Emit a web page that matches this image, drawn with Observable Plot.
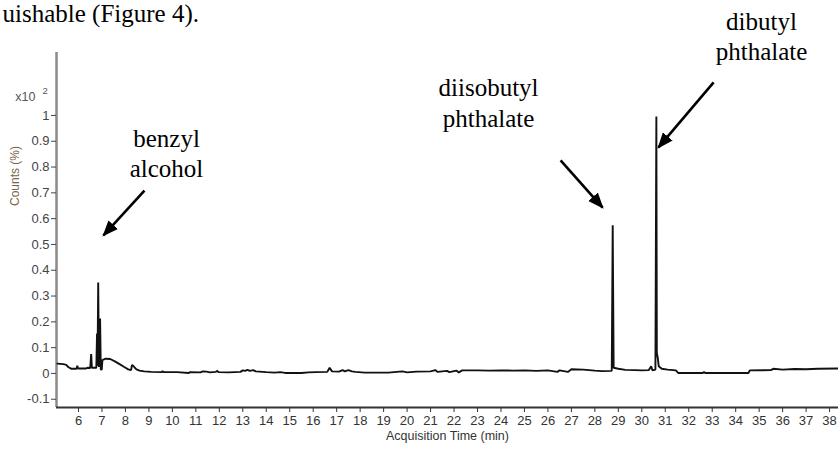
<!DOCTYPE html>
<html>
<head>
<meta charset="utf-8">
<script src="https://cdn.jsdelivr.net/npm/d3@7"></script>
<script src="https://cdn.jsdelivr.net/npm/@observablehq/plot@0.6"></script>
<style>
  html, body { margin: 0; padding: 0; background: #fff; }
  #chart svg { display: block; }
</style>
</head>
<body>
<div id="chart"></div>
<script>
// Chromatogram (retention time in min, counts in units of x10^2 %)
const time = [5.10,5.35,5.48,5.56,5.70,5.92,5.95,5.98,6.30,6.40,6.50,6.54,6.57,6.76,6.79,6.81,6.84,6.87,6.92,6.95,6.99,7.02,7.15,7.35,7.55,7.75,7.95,8.12,8.24,8.28,8.34,8.40,8.47,8.60,8.80,9.10,9.55,9.58,9.62,10.20,10.70,10.75,11.20,11.30,11.45,11.60,11.85,11.90,11.97,12.40,12.90,13.00,13.10,13.20,13.30,13.45,13.55,13.70,14.00,14.35,14.60,14.80,15.50,15.80,16.10,16.60,16.70,16.80,17.10,17.25,17.35,17.50,17.65,17.80,18.20,19.20,19.80,20.00,20.40,21.00,21.20,21.30,21.70,21.80,22.10,22.20,22.35,23.00,23.50,24.00,24.50,25.00,25.50,26.00,26.40,26.50,26.85,27.00,27.50,28.00,28.30,28.72,28.76,28.80,29.00,29.30,29.70,30.00,30.30,30.40,30.45,30.58,30.62,30.64,30.68,30.72,30.85,31.10,31.45,31.55,32.60,32.65,32.70,34.55,34.60,35.50,35.60,36.00,36.50,37.00,37.50,38.38];
const counts = [0.038,0.036,0.033,0.025,0.018,0.018,0.030,0.019,0.019,0.022,0.021,0.075,0.022,0.022,0.155,0.030,0.352,0.025,0.213,0.015,0.015,0.052,0.057,0.056,0.047,0.036,0.025,0.016,0.013,0.033,0.029,0.022,0.016,0.011,0.008,0.006,0.005,0.009,0.005,0.005,0.002,0.005,0.004,0.008,0.007,0.004,0.006,0.010,0.005,0.004,0.006,0.012,0.010,0.014,0.010,0.013,0.008,0.007,0.005,0.003,0.005,0.002,0.002,0.004,0.005,0.006,0.022,0.008,0.007,0.013,0.008,0.013,0.008,0.006,0.003,0.003,0.008,0.004,0.007,0.008,0.013,0.006,0.010,0.005,0.011,0.004,0.012,0.012,0.011,0.012,0.011,0.012,0.010,0.012,0.006,0.012,0.006,0.016,0.015,0.011,0.009,0.010,0.574,0.022,0.018,0.014,0.013,0.012,0.013,0.028,0.012,0.015,0.996,0.080,0.060,0.028,0.018,0.015,0.012,0.002,0.002,0.006,0.002,0.002,0.012,0.013,0.018,0.015,0.017,0.016,0.018,0.019];

// Axis ticks
const xTicks = d3.range(6, 39);
const yTicks = [-0.1,0,0.1,0.2,0.3,0.4,0.5,0.6,0.7,0.8,0.9,1];
const yTickLabels = ["-0.1","0","0.1","0.2","0.3","0.4","0.5","0.6","0.7","0.8","0.9","1"];

// Annotation labels (data coordinates; y = baseline)
const labelText = ["benzyl","alcohol","diisobutyl","phthalate","dibutyl","phthalate"];
const labelX = [9.75, 9.75, 23.47, 23.47, 35.10, 35.10];
const labelY = [0.876, 0.760, 1.074, 0.957, 1.333, 1.213];

// Arrows (tail -> tip, data coordinates)
const arrowX1 = [8.81, 26.54, 33.06];
const arrowY1 = [0.709, 0.826, 1.128];
const arrowX2 = [7.065, 28.33, 30.71];
const arrowY2 = [0.535, 0.643, 0.876];

const xDomain = [5.063, 38.38];
const yDomain = [-0.132, 1.244];

const series = time.map((t, i) => ({t, c: counts[i]}));
const labels = labelText.map((s, i) => ({s, x: labelX[i], y: labelY[i]}));
const arrows = arrowX1.map((x1, i) => ({x1, y1: arrowY1[i], x2: arrowX2[i], y2: arrowY2[i]}));

function filledArrow(color) {
  const m = d3.create("svg:marker")
    .attr("viewBox", "-5 -5 10 10")
    .attr("markerWidth", 16)
    .attr("markerHeight", 16)
    .attr("markerUnits", "userSpaceOnUse")
    .attr("refX", 4)
    .attr("refY", 0)
    .attr("orient", "auto")
    .attr("fill", "#000")
    .attr("stroke", "none");
  m.append("path").attr("d", "M-5,-4L5,0L-5,4Z");
  return m.node();
}

const serif = "'Liberation Serif', 'Times New Roman', serif";

const chart = Plot.plot({
  width: 838,
  height: 451,
  marginLeft: 56,
  marginRight: 0,
  marginTop: 52,
  marginBottom: 44,
  style: {background: "#fff", fontFamily: "'Liberation Sans', Arial, sans-serif", overflow: "visible"},
  x: {domain: xDomain},
  y: {domain: yDomain},
  marks: [
    // axis lines
    Plot.ruleX([xDomain[0]], {y1: yDomain[0], y2: yDomain[1], stroke: "#8a8a8a", strokeWidth: 2.5}),
    Plot.ruleY([yDomain[0]], {x1: xDomain[0], x2: xDomain[1], stroke: "#333", strokeWidth: 2.2}),
    Plot.axisX({ticks: xTicks, tickSize: 5, tickPadding: 3, fontSize: 13, color: "#333", label: null, anchor: "bottom"}),
    Plot.axisY({ticks: yTicks, tickFormat: (d) => yTickLabels[yTicks.indexOf(d)], tickSize: 5, tickPadding: 2, fontSize: 13, color: "#444", label: null, anchor: "left"}),
    // axis titles
    Plot.text(["Acquisition Time (min)"], {frameAnchor: "bottom", dy: 32, fontSize: 12.5, fill: "#333"}),
    Plot.text(["Counts (%)"], {frameAnchor: "left", dx: -41, dy: -24, rotate: -90, fontSize: 12, fill: "#7a6548"}),
    Plot.text(["x10"], {frameAnchor: "top-left", dx: -21, dy: 40, textAnchor: "end", fontSize: 12.5, fill: "#555"}),
    Plot.text(["2"], {frameAnchor: "top-left", dx: -14, dy: 35, textAnchor: "start", fontSize: 9.5, fill: "#556"}),
    // chromatogram
    Plot.line(series, {x: "t", y: "c", stroke: "#111", strokeWidth: 1.9, strokeLinejoin: "miter"}),
    // annotations
    Plot.link(arrows, {x1: "x1", y1: "y1", x2: "x2", y2: "y2", stroke: "#000", strokeWidth: 2.6, markerEnd: filledArrow}),
    Plot.text(labels, {x: "x", y: "y", text: "s", lineAnchor: "bottom", fontSize: 25, fontFamily: serif, fill: "#000"}),
    // fragment of the surrounding paper text
    Plot.text(["uishable (Figure 4)."], {frameAnchor: "top-left", dx: -54, dy: -31, lineAnchor: "bottom", textAnchor: "start", fontSize: 25, fontFamily: serif, fill: "#000"})
  ]
});
document.getElementById("chart").append(chart);
</script>
</body>
</html>
